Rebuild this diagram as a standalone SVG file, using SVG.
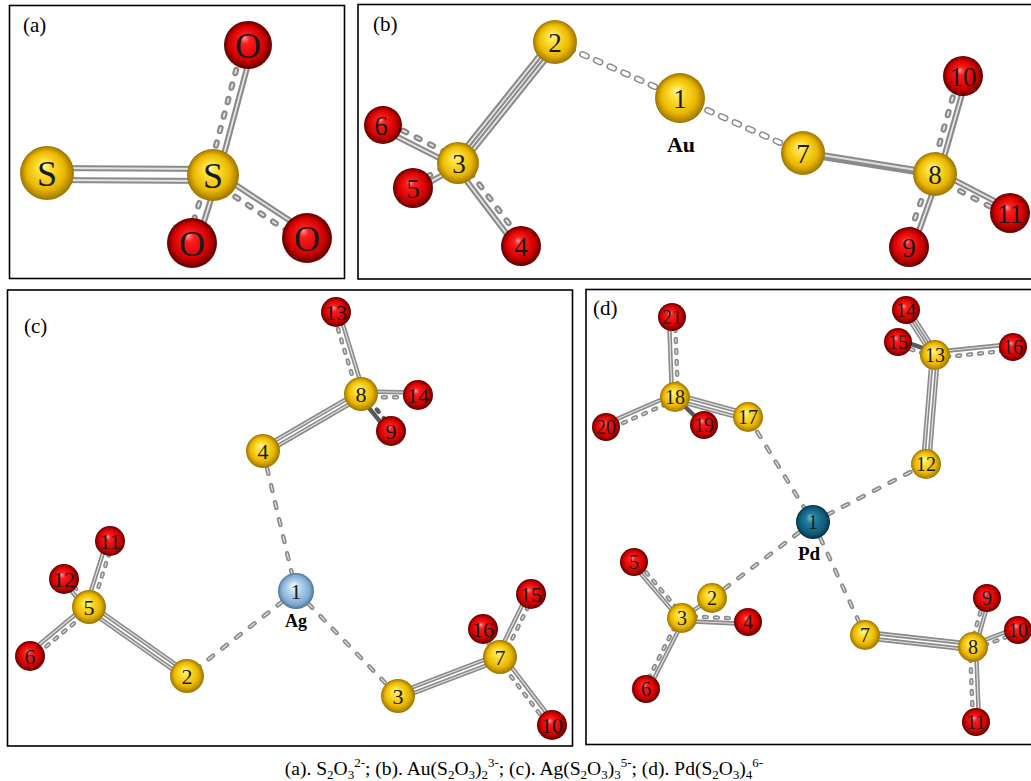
<svg xmlns="http://www.w3.org/2000/svg" xmlns:xlink="http://www.w3.org/1999/xlink" width="1031" height="781" viewBox="0 0 1031 781">
  <defs>
    <radialGradient id="gS" cx="50%" cy="50%" r="50%" fx="42%" fy="35%">
      <stop offset="0" stop-color="#fff7c0"/>
      <stop offset="0.22" stop-color="#ffe33d"/>
      <stop offset="0.7" stop-color="#eab800"/>
      <stop offset="1" stop-color="#9c7400"/>
    </radialGradient>
    <radialGradient id="gO" cx="50%" cy="50%" r="50%" fx="42%" fy="35%">
      <stop offset="0" stop-color="#ff9a9a"/>
      <stop offset="0.2" stop-color="#ff1e1e"/>
      <stop offset="0.72" stop-color="#d20000"/>
      <stop offset="1" stop-color="#5e0000"/>
    </radialGradient>
    <radialGradient id="gAg" cx="50%" cy="50%" r="50%" fx="42%" fy="35%">
      <stop offset="0" stop-color="#ffffff"/>
      <stop offset="0.3" stop-color="#bcdaf2"/>
      <stop offset="0.8" stop-color="#80aad2"/>
      <stop offset="1" stop-color="#4d7296"/>
    </radialGradient>
    <radialGradient id="gPd" cx="50%" cy="50%" r="50%" fx="42%" fy="35%">
      <stop offset="0" stop-color="#7cc8de"/>
      <stop offset="0.3" stop-color="#1f7e9e"/>
      <stop offset="0.8" stop-color="#0e5876"/>
      <stop offset="1" stop-color="#06303f"/>
    </radialGradient>
    <style>
      .frame { fill: #ffffff; stroke: #000; stroke-width: 1.6; }
      .tube { stroke: #8a8a8a; stroke-linecap: round; fill: none; }
      .hl { stroke: #e4e4e4; stroke-linecap: round; fill: none; }
      .big .tube { stroke-width: 6; }
      .big .hl { stroke-width: 1.8; }
      .small .tube { stroke-width: 4.4; }
      .small .hl { stroke-width: 1.2; }
      .thick { stroke: #8a8a8a; stroke-width: 8; }
      .thick-in { stroke: #dedede; stroke-width: 2.2; }
      .cap-out { stroke: #8a8a8a; stroke-width: 6.5; stroke-dasharray: 4.5 10.5; }
      .cap-in { stroke: #ffffff; stroke-width: 3.6; stroke-dasharray: 4.5 10.5; }
      .dk { stroke: #5a5a5a; }
      .da { stroke-dasharray: 3.5 11.5; }
      .ds { stroke-dasharray: 3 8; }
      .dc { stroke-dasharray: 6 11.5; }
      .lab { font-family: "Liberation Serif", "Times New Roman", serif; text-anchor: middle; fill: #1a1a1a; }
      .la { font-size: 36px; }
      .lb { font-size: 27px; }
      .lc { font-size: 22px; }
      .ld { font-size: 20px; }
      .tag { font-family: "Liberation Serif", "Times New Roman", serif; font-size: 21px; fill: #000; }
      .el { font-family: "Liberation Serif", "Times New Roman", serif; font-weight: bold; text-anchor: middle; fill: #000; }
      .cap { font-family: "Liberation Serif", "Times New Roman", serif; font-size: 19.5px; fill: #000; text-anchor: middle; }
      .cap .s { font-size: 13px; }
    </style>
  </defs>

  <rect width="1031" height="781" fill="#ffffff"/>

  <!-- (a) thiosulfate anion -->
  <g id="panel-a" class="big">
    <rect class="frame" x="9.5" y="5.5" width="335" height="273"/>
    <text class="tag" x="23" y="32">(a)</text>
    <g id="connectors-a" class="tube">
      <g id="bonds-a">
        <line x1="47" y1="168" x2="213" y2="169"/>
        <line x1="47" y1="180" x2="213" y2="181"/>
        <line x1="217.8" y1="177.3" x2="252.8" y2="46.3"/>
        <line class="da" x1="208.2" y1="174.7" x2="243.2" y2="43.7"/>
        <line x1="217.8" y1="177.5" x2="196.8" y2="244.5"/>
        <line class="da" x1="208.2" y1="174.5" x2="187.2" y2="241.5"/>
        <line x1="215.8" y1="171.8" x2="309.8" y2="233.8"/>
        <line class="da" x1="210.3" y1="180.2" x2="304.3" y2="242.2"/>
      </g>
    </g>
    <use href="#bonds-a" class="hl"/>
    <g id="a-S1"><circle cx="47" cy="173" r="27" fill="url(#gS)"/><text class="lab la" x="47" y="185.5">S</text></g>
    <g id="a-S2"><circle cx="213" cy="175" r="26" fill="url(#gS)"/><text class="lab la" x="213" y="187.5">S</text></g>
    <g id="a-O1"><circle cx="248" cy="45" r="24" fill="url(#gO)"/><text class="lab la" x="248" y="57.5">O</text></g>
    <g id="a-O2"><circle cx="192" cy="243" r="25" fill="url(#gO)"/><text class="lab la" x="192" y="255.5">O</text></g>
    <g id="a-O3"><circle cx="307" cy="238" r="25" fill="url(#gO)"/><text class="lab la" x="307" y="250.5">O</text></g>
  </g>

  <!-- (b) gold bis-thiosulfate complex -->
  <g id="panel-b" class="big">
    <rect class="frame" x="358" y="4.5" width="700" height="274.5"/>
    <text class="tag" x="373" y="31">(b)</text>
    <g id="connectors-b" class="tube">
      <g id="bonds-b">
        <line x1="557.7" y1="44.2" x2="460.7" y2="165.2"/>
        <line x1="552.3" y1="39.8" x2="455.3" y2="160.8"/>
        <line class="da" x1="459.8" y1="159.4" x2="384.8" y2="121.4"/>
        <line x1="456.2" y1="166.6" x2="381.2" y2="128.6"/>
        <line class="da" x1="456.5" y1="160.4" x2="411.5" y2="185.4"/>
        <line x1="459.5" y1="165.6" x2="414.5" y2="190.6"/>
        <line x1="454.8" y1="165.4" x2="517.8" y2="248.4"/>
        <line class="da" x1="461.2" y1="160.6" x2="524.2" y2="243.6"/>
        <line x1="938.9" y1="175.1" x2="966.9" y2="77.1"/>
        <line class="da" x1="931.2" y1="172.9" x2="959.2" y2="74.9"/>
        <line class="da" x1="933.4" y1="177.1" x2="1008.4" y2="216.1"/>
        <line x1="936.6" y1="170.9" x2="1011.6" y2="209.9"/>
        <line class="da" x1="931.2" y1="172.7" x2="905.2" y2="245.7"/>
        <line x1="938.8" y1="175.3" x2="912.8" y2="248.3"/>
      </g>
      <!-- Au–S contacts drawn as white capsules -->
      <line class="cap-out" x1="555" y1="42" x2="680" y2="98"/>
      <line class="cap-in" x1="555" y1="42" x2="680" y2="98"/>
      <line class="cap-out" x1="680" y1="98" x2="803" y2="153"/>
      <line class="cap-in" x1="680" y1="98" x2="803" y2="153"/>
      <!-- S7–S8 -->
      <line class="thick" x1="803" y1="153" x2="935" y2="174"/>
      <line class="thick-in" x1="803" y1="152" x2="935" y2="173"/>
    </g>
    <use href="#bonds-b" class="hl"/>
    <g id="b-S2"><circle cx="555" cy="42" r="22" fill="url(#gS)"/><text class="lab lb" x="555" y="51.5">2</text></g>
    <g id="b-Au1"><circle cx="680" cy="98" r="25" fill="url(#gS)"/><text class="lab lb" x="680" y="107.5">1</text><text class="el" x="681" y="152" font-size="22">Au</text></g>
    <g id="b-O6"><circle cx="383" cy="125" r="19" fill="url(#gO)"/><text class="lab lb" x="381" y="134.5">6</text></g>
    <g id="b-O5"><circle cx="413" cy="188" r="20" fill="url(#gO)"/><text class="lab lb" x="413" y="197.5">5</text></g>
    <g id="b-S3"><circle cx="458" cy="163" r="21" fill="url(#gS)"/><text class="lab lb" x="459" y="172.5">3</text></g>
    <g id="b-O4"><circle cx="521" cy="246" r="20" fill="url(#gO)"/><text class="lab lb" x="521" y="255.5">4</text></g>
    <g id="b-S7"><circle cx="803" cy="153" r="22" fill="url(#gS)"/><text class="lab lb" x="803" y="162.5">7</text></g>
    <g id="b-S8"><circle cx="935" cy="174" r="22" fill="url(#gS)"/><text class="lab lb" x="935" y="183.5">8</text></g>
    <g id="b-O10"><circle cx="963" cy="76" r="20" fill="url(#gO)"/><text class="lab lb" x="963" y="85.5">10</text></g>
    <g id="b-O11"><circle cx="1010" cy="213" r="20" fill="url(#gO)"/><text class="lab lb" x="1010" y="222.5">11</text></g>
    <g id="b-O9"><circle cx="909" cy="247" r="20" fill="url(#gO)"/><text class="lab lb" x="909" y="256.5">9</text></g>
  </g>

  <!-- (c) silver tris-thiosulfate complex -->
  <g id="panel-c" class="small">
    <rect class="frame" x="7.5" y="290" width="565" height="456"/>
    <text class="tag" x="24" y="333">(c)</text>
    <g id="connectors-c" class="tube">
      <g id="bonds-c">
        <line x1="264.5" y1="453.6" x2="362.5" y2="396.6"/>
        <line x1="261.5" y1="448.4" x2="359.5" y2="391.4"/>
        <line x1="363.9" y1="393.1" x2="338.9" y2="311.1"/>
        <line class="ds" x1="358.1" y1="394.9" x2="333.1" y2="312.9"/>
        <line x1="361" y1="391.5" x2="418" y2="392.5"/>
        <line class="ds" x1="361" y1="397" x2="418" y2="397.5"/>
        <line class="dk" x1="359" y1="395.6" x2="389" y2="432.6"/>
        <line class="ds dk" x1="362.9" y1="392.4" x2="392.9" y2="429.4"/>
        <line class="dc" x1="263" y1="451" x2="296" y2="591"/>
        <line class="dc" x1="296" y1="591" x2="187" y2="676"/>
        <line class="dc" x1="296" y1="591" x2="398" y2="696"/>
        <line x1="188.7" y1="673.5" x2="90.7" y2="604.5"/>
        <line x1="185.3" y1="678.5" x2="87.3" y2="609.5"/>
        <line class="ds" x1="91.9" y1="607.9" x2="112.9" y2="541.9"/>
        <line x1="86.1" y1="606.1" x2="107.1" y2="540.1"/>
        <line class="ds" x1="90.9" y1="605.3" x2="65.9" y2="577.3"/>
        <line x1="87.1" y1="608.7" x2="62.1" y2="580.7"/>
        <line x1="87.1" y1="604.7" x2="28.1" y2="653.7"/>
        <line class="ds" x1="90.9" y1="609.3" x2="31.9" y2="658.3"/>
        <line x1="399.1" y1="698.8" x2="501.1" y2="659.8"/>
        <line x1="396.9" y1="693.2" x2="498.9" y2="654.2"/>
        <line class="ds" x1="502.7" y1="658.3" x2="533.7" y2="595.3"/>
        <line x1="497.3" y1="655.7" x2="528.3" y2="592.7"/>
        <line class="ds" x1="502.1" y1="655.7" x2="485.1" y2="627.7"/>
        <line x1="497.9" y1="658.3" x2="480.9" y2="630.3"/>
        <line class="ds" x1="497.6" y1="658.8" x2="549.6" y2="726.8"/>
        <line x1="502.4" y1="655.2" x2="554.4" y2="723.2"/>
      </g>
    </g>
    <use href="#bonds-c" class="hl"/>
    <g id="c-O13"><circle cx="336" cy="312" r="15" fill="url(#gO)"/><text class="lab lc" x="336" y="319.5">13</text></g>
    <g id="c-O9"><circle cx="391" cy="431" r="15" fill="url(#gO)"/><text class="lab lc" x="391" y="438.5">9</text></g>
    <g id="c-S8"><circle cx="361" cy="394" r="17" fill="url(#gS)"/><text class="lab lc" x="361" y="401.5">8</text></g>
    <g id="c-O14"><circle cx="418" cy="395" r="15" fill="url(#gO)"/><text class="lab lc" x="418" y="402.5">14</text></g>
    <g id="c-S4"><circle cx="263" cy="451" r="17" fill="url(#gS)"/><text class="lab lc" x="263" y="458.5">4</text></g>
    <g id="c-Ag1"><circle cx="296" cy="591" r="18" fill="url(#gAg)"/><text class="lab lc" x="296" y="598.5">1</text><text class="el" x="296" y="627" font-size="18">Ag</text></g>
    <g id="c-O11"><circle cx="110" cy="541" r="15" fill="url(#gO)"/><text class="lab lc" x="110" y="548.5">11</text></g>
    <g id="c-O12"><circle cx="64" cy="579" r="15" fill="url(#gO)"/><text class="lab lc" x="64" y="586.5">12</text></g>
    <g id="c-S5"><circle cx="89" cy="607" r="17" fill="url(#gS)"/><text class="lab lc" x="89" y="614.5">5</text></g>
    <g id="c-O6"><circle cx="30" cy="656" r="15" fill="url(#gO)"/><text class="lab lc" x="30" y="663.5">6</text></g>
    <g id="c-S2"><circle cx="187" cy="676" r="17" fill="url(#gS)"/><text class="lab lc" x="187" y="683.5">2</text></g>
    <g id="c-S3"><circle cx="398" cy="696" r="17" fill="url(#gS)"/><text class="lab lc" x="398" y="703.5">3</text></g>
    <g id="c-O15"><circle cx="531" cy="594" r="15" fill="url(#gO)"/><text class="lab lc" x="531" y="601.5">15</text></g>
    <g id="c-O16"><circle cx="483" cy="629" r="15" fill="url(#gO)"/><text class="lab lc" x="483" y="636.5">16</text></g>
    <g id="c-S7"><circle cx="500" cy="657" r="17" fill="url(#gS)"/><text class="lab lc" x="500" y="664.5">7</text></g>
    <g id="c-O10"><circle cx="552" cy="725" r="15" fill="url(#gO)"/><text class="lab lc" x="552" y="732.5">10</text></g>
  </g>

  <!-- (d) palladium tetrakis-thiosulfate complex -->
  <g id="panel-d" class="small">
    <rect class="frame" x="586" y="289.5" width="470" height="455"/>
    <text class="tag" x="593" y="315">(d)</text>
    <g id="connectors-d" class="tube">
      <g id="bonds-d">
        <line class="ds" x1="678" y1="396.9" x2="675" y2="316.9"/>
        <line x1="672" y1="397.1" x2="669" y2="317.1"/>
        <line x1="673.8" y1="394.3" x2="604.8" y2="424.3"/>
        <line class="ds" x1="676.2" y1="399.8" x2="607.2" y2="429.8"/>
        <line class="dk" x1="675" y1="397" x2="704" y2="425"/>
        <line x1="674.2" y1="399.9" x2="747.2" y2="419.9"/>
        <line x1="675.8" y1="394.1" x2="748.8" y2="414.1"/>
        <line class="dc" x1="748" y1="417" x2="813" y2="522"/>
        <line x1="937.1" y1="353.6" x2="908.1" y2="308.6"/>
        <line x1="932.9" y1="356.4" x2="903.9" y2="311.4"/>
        <line class="dk" x1="935.8" y1="352.6" x2="898.8" y2="339.6"/>
        <line class="ds" x1="934.2" y1="357.4" x2="897.2" y2="344.4"/>
        <line class="ds" x1="935.3" y1="358" x2="1013.3" y2="350"/>
        <line x1="934.7" y1="352" x2="1012.7" y2="344"/>
        <line x1="932" y1="354.8" x2="923" y2="463.8"/>
        <line x1="938" y1="355.2" x2="929" y2="464.2"/>
        <line class="dc" x1="926" y1="464" x2="813" y2="522"/>
        <line class="dc" x1="813" y1="522" x2="712" y2="598"/>
        <line x1="712" y1="598" x2="682" y2="618"/>
        <line class="ds" x1="683.9" y1="616.4" x2="635.9" y2="560.4"/>
        <line x1="680.1" y1="619.6" x2="632.1" y2="563.6"/>
        <line class="ds" x1="682" y1="616" x2="748" y2="619"/>
        <line x1="682" y1="621" x2="748" y2="624"/>
        <line class="ds" x1="679.8" y1="616.9" x2="643.8" y2="687.9"/>
        <line x1="684.2" y1="619.1" x2="648.2" y2="690.1"/>
        <line class="dc" x1="813" y1="522" x2="865" y2="635"/>
        <line x1="864.7" y1="638" x2="972.7" y2="650"/>
        <line x1="865.3" y1="632" x2="973.3" y2="644"/>
        <line x1="975.4" y1="647.7" x2="989.4" y2="598.7"/>
        <line class="ds" x1="970.6" y1="646.3" x2="984.6" y2="597.3"/>
        <line class="ds" x1="973.9" y1="649.3" x2="1018.9" y2="632.3"/>
        <line x1="972.1" y1="644.7" x2="1017.1" y2="627.7"/>
        <line class="ds" x1="970" y1="647.1" x2="973" y2="722.1"/>
        <line x1="976" y1="646.9" x2="979" y2="721.9"/>
      </g>
    </g>
    <use href="#bonds-d" class="hl"/>
    <g id="d-O21"><circle cx="672" cy="317" r="14" fill="url(#gO)"/><text class="lab ld" x="672" y="324">21</text></g>
    <g id="d-O20"><circle cx="606" cy="427" r="14" fill="url(#gO)"/><text class="lab ld" x="606" y="434">20</text></g>
    <g id="d-S18"><circle cx="675" cy="397" r="15" fill="url(#gS)"/><text class="lab ld" x="675" y="404">18</text></g>
    <g id="d-O19"><circle cx="704" cy="425" r="14" fill="url(#gO)"/><text class="lab ld" x="704" y="432">19</text></g>
    <g id="d-S17"><circle cx="748" cy="417" r="15" fill="url(#gS)"/><text class="lab ld" x="748" y="424">17</text></g>
    <g id="d-O14"><circle cx="906" cy="310" r="14" fill="url(#gO)"/><text class="lab ld" x="906" y="317">14</text></g>
    <g id="d-O15"><circle cx="898" cy="342" r="14" fill="url(#gO)"/><text class="lab ld" x="898" y="349">15</text></g>
    <g id="d-S13"><circle cx="935" cy="355" r="15" fill="url(#gS)"/><text class="lab ld" x="935" y="362">13</text></g>
    <g id="d-O16"><circle cx="1013" cy="347" r="14" fill="url(#gO)"/><text class="lab ld" x="1013" y="354">16</text></g>
    <g id="d-S12"><circle cx="926" cy="464" r="15" fill="url(#gS)"/><text class="lab ld" x="926" y="471">12</text></g>
    <g id="d-Pd1"><circle cx="813" cy="522" r="17" fill="url(#gPd)"/><text class="lab ld" x="813" y="529">1</text><text class="el" x="809" y="560" font-size="19">Pd</text></g>
    <g id="d-O5"><circle cx="634" cy="562" r="14" fill="url(#gO)"/><text class="lab ld" x="634" y="569">5</text></g>
    <g id="d-S3"><circle cx="682" cy="618" r="15" fill="url(#gS)"/><text class="lab ld" x="682" y="625">3</text></g>
    <g id="d-S2"><circle cx="712" cy="598" r="15" fill="url(#gS)"/><text class="lab ld" x="712" y="605">2</text></g>
    <g id="d-O4"><circle cx="748" cy="622" r="14" fill="url(#gO)"/><text class="lab ld" x="748" y="629">4</text></g>
    <g id="d-O6"><circle cx="646" cy="689" r="14" fill="url(#gO)"/><text class="lab ld" x="646" y="696">6</text></g>
    <g id="d-S7"><circle cx="865" cy="635" r="15" fill="url(#gS)"/><text class="lab ld" x="865" y="642">7</text></g>
    <g id="d-O9"><circle cx="987" cy="598" r="14" fill="url(#gO)"/><text class="lab ld" x="987" y="605">9</text></g>
    <g id="d-S8"><circle cx="973" cy="647" r="15" fill="url(#gS)"/><text class="lab ld" x="973" y="654">8</text></g>
    <g id="d-O10"><circle cx="1018" cy="630" r="14" fill="url(#gO)"/><text class="lab ld" x="1018" y="637">10</text></g>
    <g id="d-O11"><circle cx="976" cy="722" r="14" fill="url(#gO)"/><text class="lab ld" x="976" y="729">11</text></g>
  </g>

  <!-- caption -->
  <text class="cap" x="524" y="775">(a). S<tspan class="s" dy="4">2</tspan><tspan dy="-4">O</tspan><tspan class="s" dy="4">3</tspan><tspan class="s" dy="-12">2-</tspan><tspan dy="8">; (b). Au(S</tspan><tspan class="s" dy="4">2</tspan><tspan dy="-4">O</tspan><tspan class="s" dy="4">3</tspan><tspan dy="-4">)</tspan><tspan class="s" dy="4">2</tspan><tspan class="s" dy="-12">3-</tspan><tspan dy="8">; (c). Ag(S</tspan><tspan class="s" dy="4">2</tspan><tspan dy="-4">O</tspan><tspan class="s" dy="4">3</tspan><tspan dy="-4">)</tspan><tspan class="s" dy="4">3</tspan><tspan class="s" dy="-12">5-</tspan><tspan dy="8">; (d). Pd(S</tspan><tspan class="s" dy="4">2</tspan><tspan dy="-4">O</tspan><tspan class="s" dy="4">3</tspan><tspan dy="-4">)</tspan><tspan class="s" dy="4">4</tspan><tspan class="s" dy="-12">6-</tspan></text>
</svg>
